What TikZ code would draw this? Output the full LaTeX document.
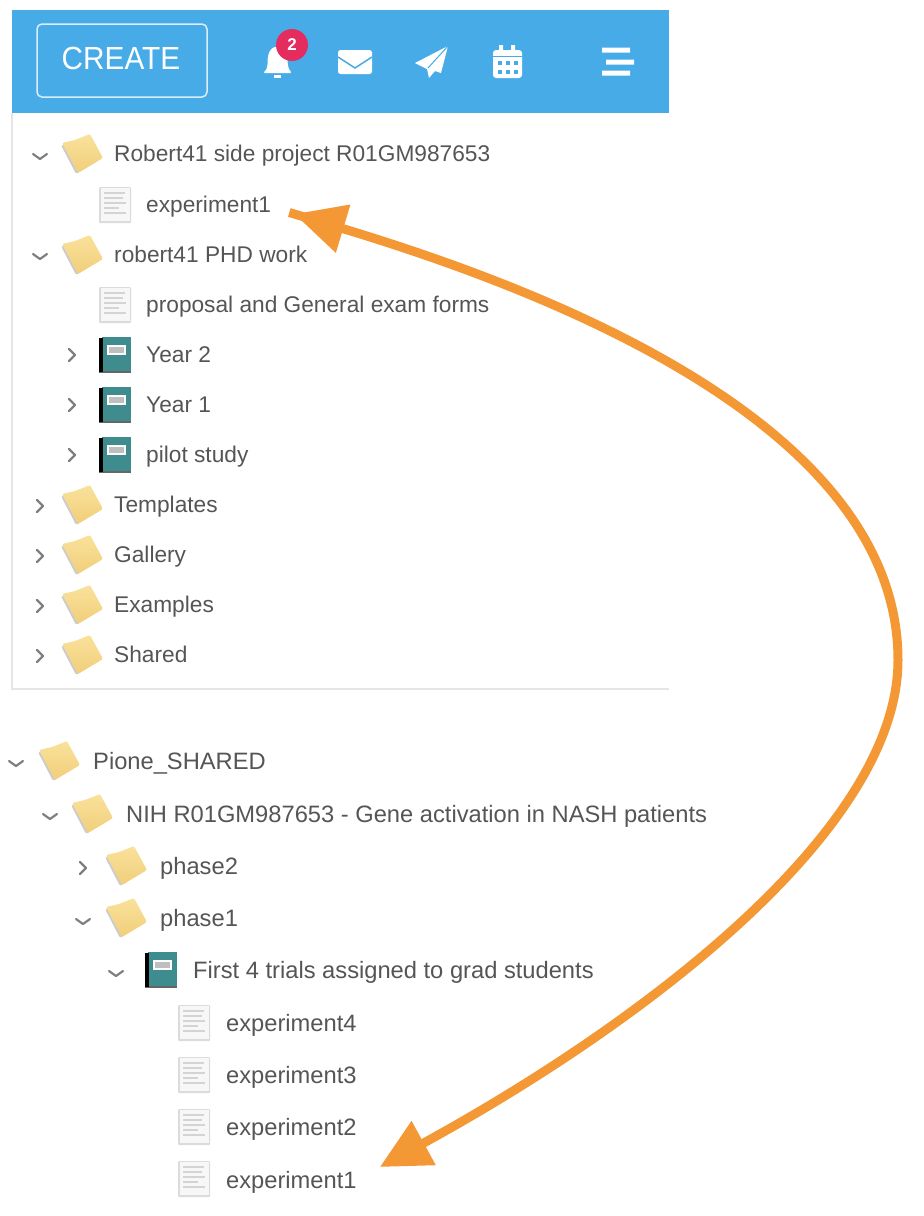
\documentclass[tikz,border=0pt]{standalone}
\usepackage{fontspec}
\setmainfont{Liberation Sans}
\newfontfamily\createfont[FakeStretch=0.93]{Liberation Sans}
\usetikzlibrary{arrows.meta,calc,shapes.geometric}
\definecolor{hdr}{RGB}{71,171,232}
\definecolor{orng}{RGB}{243,152,52}
\definecolor{txtc}{RGB}{85,85,85}
\definecolor{teal1}{RGB}{62,140,142}
\definecolor{badge}{RGB}{228,44,94}
\definecolor{fold1}{RGB}{249,226,155}
\definecolor{fold2}{RGB}{241,206,122}
\tikzset{
  x=1pt,y=-1pt,
  lbl/.style={anchor=base west,inner sep=0pt,text=txtc,font=\fontsize{22.7}{26}\selectfont},
  lblb/.style={lbl,font=\fontsize{23.7}{27}\selectfont},
  chev/.style={draw=black!50,line width=2.2pt,line cap=round,line join=round},
  pics/folderic/.style={code={
    \fill[black!20,rounded corners=2pt] (-1,10)--(14,39)--(18,37)--(6,10)--cycle;
    \shade[top color=fold1,bottom color=fold2,rounded corners=1.5pt]
      (0,8)--(13,5)--(28,-1)--(41,23)--(16,38)--cycle;
  }},
  pics/docic/.style={code={
    \fill[black!14,rounded corners=1pt] (0,0) rectangle (32,36);
    \fill[black!3] (1.5,1) rectangle (30.5,33.5);
    \foreach \yy/\xx in {6/26,11/24,16/27,21/20,26/27}{\draw[black!17,line width=1.2pt] (5,\yy)--(\xx,\yy);}
  }},
  pics/bookic/.style={code={
    \fill[black!60] (0,2) rectangle (32,36);
    \fill[teal1] (3,0) rectangle (32,34);
    \fill[black] (0,1) rectangle (3.5,35);
    \fill[white] (8,8) rectangle (27,18);
    \fill[black!25] (10,10) rectangle (25,16);
  }},
  pics/chevd/.style={code={\draw[chev] (-7,-3)--(0,2)--(7,-3);}},
  pics/chevr/.style={code={\draw[chev] (-3,-6)--(3,0)--(-3,6);}},
}
\begin{document}
\begin{tikzpicture}
\useasboundingbox (0,0) rectangle (924,1216);
% panel
\fill[hdr] (12,10) rectangle (669,113);
\draw[black!10,line width=1.5pt] (12,113)--(12,689)--(669,689);
\node[draw=white!80!hdr,line width=1.5pt,rounded corners=5pt,minimum width=170pt,minimum height=73pt,inner sep=0pt] (createbox) at (122,60.5) {};
\node[inner sep=0pt,text=white,font=\createfont\fontsize{32}{36}\selectfont] (create) at ($(createbox.center)+(-1,-2)$) {CREATE};
% bell
\fill[white,rounded corners=1.5pt] (263,73) .. controls (269,68) and (267,62) .. (268,57) .. controls (269,50) and (273,47) .. (277,47) .. controls (282,47) and (286,50) .. (287,57) .. controls (288,62) and (287,68) .. (292,73) -- cycle;
\fill[white] (274,75) rectangle (281,78);
\node[circle,fill=badge,minimum size=32pt,inner sep=0pt,text=white,font=\bfseries\fontsize{17}{20}\selectfont] (bdg) at (292,45) {2};
% envelope
\fill[white,rounded corners=2.5pt] (338,50) rectangle (372,74);
\draw[hdr,line width=1.5pt] (338,57)--(355,68)--(372,57);
% plane
\fill[white] (448,46)--(415,63)--(427,69)--(429,78)--(435,71)--(441,73)--cycle;
\draw[hdr,line width=1pt] (448,46)--(428,68);
% calendar
\fill[white,rounded corners=3pt] (493,50) rectangle (522,78);
\fill[white] (499,45) rectangle (503,52) (511,45) rectangle (515,52);
\draw[hdr,line width=1pt] (493,56)--(522,56);
\foreach \cx in {499.5,507.5,515.5}{\foreach \cy in {63,72}{\fill[hdr] (\cx-2,\cy-2) rectangle (\cx+2,\cy+2);}}
% menu
\fill[white] (602,47.5) rectangle (630,52.5) (606,59.5) rectangle (634,64.5) (602,70.5) rectangle (630,75.5);
% top tree
\pic at (62,135) {folderic}; \pic at (40,157) {chevd};
\node[lbl] (t1) at (114,161) {Robert41 side project R01GM987653};
\pic at (99,187) {docic};
\node[lbl] (expA) at (146,212) {experiment1};
\pic at (62,236) {folderic}; \pic at (40,257) {chevd};
\node[lbl] (t2) at (114,262) {robert41 PHD work};
\pic at (99,287) {docic};
\node[lbl] (t3) at (146,312) {proposal and General exam forms};
\pic at (99,337) {bookic}; \pic at (72,355) {chevr};
\node[lbl] (t4) at (146,362) {Year 2};
\pic at (99,387) {bookic}; \pic at (72,405) {chevr};
\node[lbl] (t5) at (146,412) {Year 1};
\pic at (99,437) {bookic}; \pic at (72,455) {chevr};
\node[lbl] (t6) at (146,462) {pilot study};
\pic at (62,486) {folderic}; \pic at (40,506) {chevr};
\node[lbl] (t7) at (114,512) {Templates};
\pic at (62,536) {folderic}; \pic at (40,556) {chevr};
\node[lbl] (t8) at (114,562) {Gallery};
\pic at (62,586) {folderic}; \pic at (40,606) {chevr};
\node[lbl] (t9) at (114,612) {Examples};
\pic at (62,636) {folderic}; \pic at (40,656) {chevr};
\node[lbl] (t10) at (114,662) {Shared};
% lower tree
\pic at (39,742) {folderic}; \pic at (16,764) {chevd};
\node[lblb] (b1) at (93,769) {Pione\_SHARED};
\pic at (72,795) {folderic}; \pic at (50,817) {chevd};
\node[lblb] (b2) at (126,822) {NIH R01GM987653 - Gene activation in NASH patients};
\pic at (106,847) {folderic}; \pic at (83,868) {chevr};
\node[lblb] (b3) at (160,874) {phase2};
\pic at (106,899) {folderic}; \pic at (83,922) {chevd};
\node[lblb] (b4) at (160,926) {phase1};
\pic at (145,952) {bookic}; \pic at (116,974) {chevd};
\node[lblb] (b5) at (193,978) {First 4 trials assigned to grad students};
\pic at (178,1005) {docic};
\node[lblb] (b6) at (226,1031) {experiment4};
\pic at (178,1057) {docic};
\node[lblb] (b7) at (226,1083) {experiment3};
\pic at (178,1109) {docic};
\node[lblb] (b8) at (226,1135) {experiment2};
\pic at (178,1161) {docic};
\node[lblb] (expB) at (226,1188) {experiment1};
% arrow
\coordinate (tipA) at ($(expA.base east)+(23,2)$);
\coordinate (tipB) at ($(expB.base east)+(23,-21)$);
\draw[orng,line width=9pt] ($(tipA)+(-5,-1.5)$) -- ($(tipA)+(25,7.5)$);
\draw[orng,line width=9pt,{Triangle[length=51pt,width=48pt,fill=orng]}-{Triangle[length=50pt,width=48pt,fill=orng]}]
  (tipA) .. controls (593,304) and (898,440) .. (898,660)
  .. controls (898,830) and (643,1023) .. (tipB);
\end{tikzpicture}
\end{document}
